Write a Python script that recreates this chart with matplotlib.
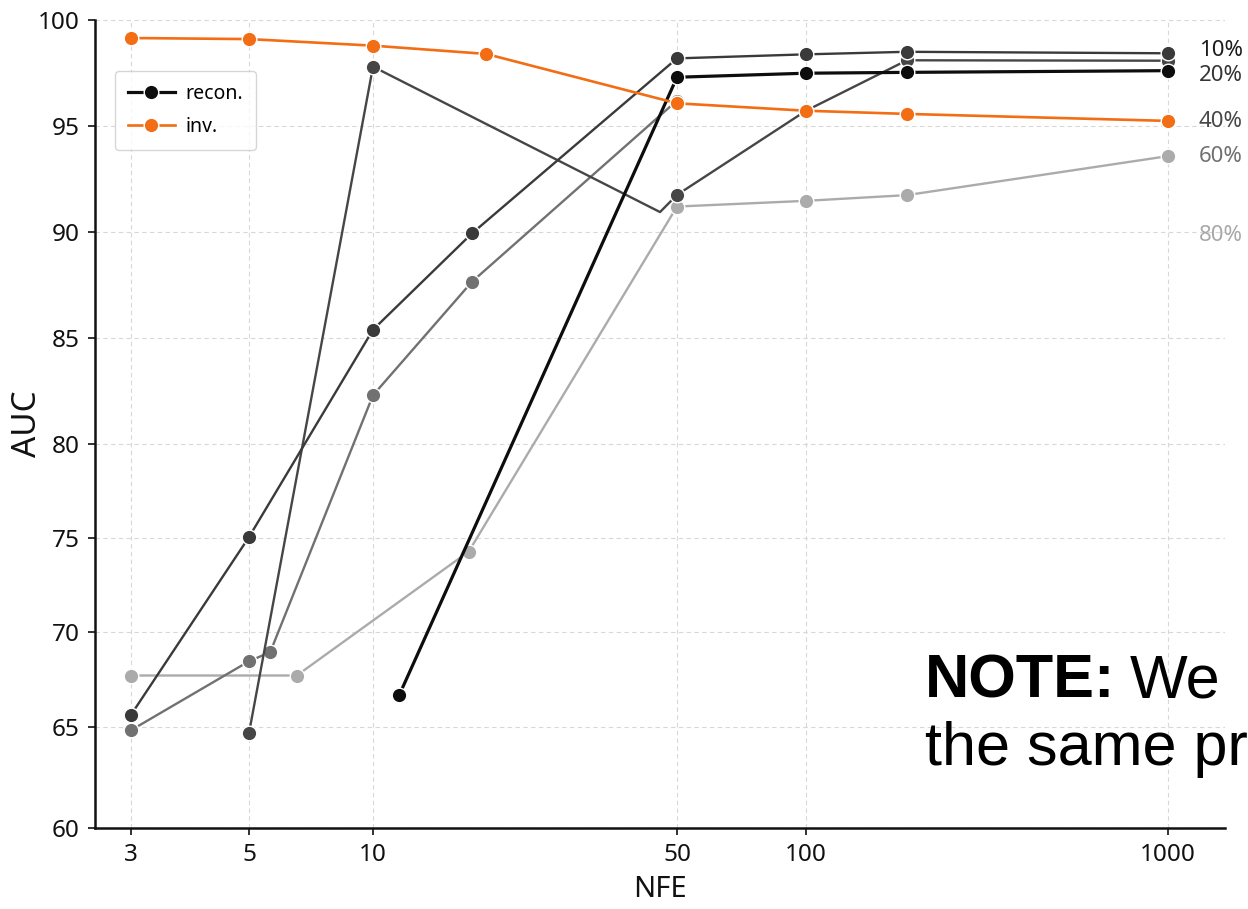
import numpy as np
import matplotlib
matplotlib.use('Agg')
import matplotlib.pyplot as plt
from matplotlib.ticker import NullLocator

plt.rcParams['font.family'] = ['Noto Sans', 'DejaVu Sans']

# ---------------- data ----------------
tick_nfe = [3, 5, 10, 50, 100, 1000]
tick_labels = ['3', '5', '10', '50', '100', '1000']
y_ticks = [60, 65, 70, 75, 80, 85, 90, 95, 100]

inv_x = [3, 5, 10, 18.2, 50, 100, 190, 1000]
inv_y = [99.15, 99.10, 98.79, 98.40, 96.07, 95.72, 95.57, 95.24]

recon_x = [11.5, 50, 100, 190, 1000]
recon_y = [66.70, 97.30, 97.49, 97.53, 97.61]

g1_x = [3, 5, 10, 16.9, 50, 100, 190, 1000]
g1_y = [65.64, 75.05, 85.39, 89.94, 98.19, 98.38, 98.50, 98.43]

g2_x = [5, 10, 45.7, 50, 100, 190, 1000]
g2_y = [64.70, 97.80, 90.94, 91.75, 95.72, 98.10, 98.08]
g2_marked = [0, 1, 3, 4, 5, 6]

g3_x = [3, 5, 5.63, 10, 16.9, 50]
g3_y = [64.84, 68.46, 68.94, 82.30, 87.66, 96.20]

g4_x = [3, 6.53, 16.6, 50, 100, 190, 1000]
g4_y = [67.71, 67.71, 74.28, 91.20, 91.47, 91.74, 93.58]

end_labels = ['10%', '20%', '40%', '60%', '80%']
end_label_y = [98.58, 97.40, 95.20, 93.55, 89.85]
end_label_colors = ['#1c1c1c', '#353535', '#474747', '#707070', '#a8a8a8']

# ---------------- custom NFE scale (piecewise log) ----------------
_L = np.log10(np.array(tick_nfe, float))
_P = np.array([131, 249, 373, 677, 806, 1168], float)
_s0 = (_P[1] - _P[0]) / (_L[1] - _L[0])
_s1 = (_P[-1] - _P[-2]) / (_L[-1] - _L[-2])
XL = np.concatenate([[_L[0] - 3], _L, [_L[-1] + 3]])
XP = np.concatenate([[_P[0] - 3 * _s0], _P, [_P[-1] + 3 * _s1]])


def xfwd(x):
    x = np.asarray(x, float)
    lx = np.log10(np.where(x > 0, x, 1e-300))
    return np.interp(lx, XL, XP)


def xinv(p):
    p = np.asarray(p, float)
    return 10 ** np.interp(p, XP, XL)


# ---------------- custom AUC scale (piecewise linear, uneven tick spacing) ----------------
_YV = np.array(y_ticks, float)
_YP = np.array([0, 101, 196, 290, 384, 490, 596, 702, 808], float)
YV = np.concatenate([[_YV[0] - 100], _YV, [_YV[-1] + 100]])
YP = np.concatenate([[_YP[0] - 100 * (_YP[1] - _YP[0]) / 5], _YP,
                     [_YP[-1] + 100 * (_YP[-1] - _YP[-2]) / 5]])


def yfwd(y):
    return np.interp(np.asarray(y, float), YV, YP)


def yinv(p):
    return np.interp(np.asarray(p, float), YP, YV)


# ---------------- figure ----------------
W, H = 1248, 909
fig = plt.figure(figsize=(W / 100, H / 100), dpi=100)
fig.patch.set_facecolor('white')
ax = fig.add_axes([95 / W, 81 / H, 1130 / W, 808 / H])

ax.set_xscale('function', functions=(xfwd, xinv))
ax.set_yscale('function', functions=(yfwd, yinv))
ax.set_xlim(float(xinv(95)), float(xinv(1225)))
ax.set_ylim(60, 100)

ms = 10.5
common = dict(marker='o', markersize=ms, markeredgecolor='white', markeredgewidth=1.0)

ax.plot(g4_x, g4_y, color='#ababab', lw=1.7, zorder=2, **common)
ax.plot(g3_x, g3_y, color='#717171', lw=1.7, zorder=3, **common)
ax.plot(g2_x, g2_y, color='#464646', lw=1.7, zorder=3, markevery=g2_marked, **common)
ax.plot(g1_x, g1_y, color='#3a3a3a', lw=1.7, zorder=3, **common)
h_recon, = ax.plot(recon_x, recon_y, color='#0d0d0d', lw=2.3, zorder=4, **common)
h_inv, = ax.plot(inv_x, inv_y, color='#f26d14', lw=1.9, zorder=5, **common)

ax.set_xticks(tick_nfe)
ax.set_xticklabels(tick_labels)
ax.xaxis.set_minor_locator(NullLocator())
ax.set_yticks(y_ticks)
ax.set_yticklabels([str(v) for v in y_ticks])
ax.yaxis.set_minor_locator(NullLocator())

ax.grid(True, linestyle=(0, (4, 3)), color='#d8d8d8', linewidth=0.8)
ax.set_axisbelow(True)

for s in ['top', 'right']:
    ax.spines[s].set_visible(False)
for s in ['left', 'bottom']:
    ax.spines[s].set_linewidth(1.8)
    ax.spines[s].set_color('#111111')

ax.tick_params(axis='both', direction='out', length=5, width=1.3, color='#222222',
               labelsize=17.5, pad=6, labelcolor='#111111')

ax.set_ylabel('AUC', fontsize=24, color='#111111')
ax.yaxis.set_label_coords(-0.045, 0.5)
ax.set_xlabel('NFE', fontsize=21, color='#111111')
ax.xaxis.set_label_coords(0.5, -0.058)

for lbl, yv, c in zip(end_labels, end_label_y, end_label_colors):
    ax.annotate(lbl, xy=(1000, yv), xytext=(22, 0), textcoords='offset points',
                ha='left', va='center', fontsize=16, color=c, annotation_clip=False)

leg = ax.legend(handles=[h_recon, h_inv], labels=['recon.', 'inv.'],
                loc='upper left', bbox_to_anchor=(0.018, 0.937), borderaxespad=0,
                fontsize=14, frameon=True, fancybox=True, handlelength=2.4,
                handletextpad=0.55, borderpad=0.65, labelspacing=0.7)
leg.get_frame().set_edgecolor('#cccccc')
leg.get_frame().set_linewidth(1.0)

fig.text(925 / W, 1 - 697 / H, 'NOTE:', fontsize=44, fontweight='bold',
         family='Liberation Sans', va='baseline', ha='left', color='black')
fig.text(1130 / W, 1 - 697 / H, 'We', fontsize=44,
         family='Liberation Sans', va='baseline', ha='left', color='black')
fig.text(925 / W, 1 - 765 / H, 'the same pr', fontsize=44,
         family='Liberation Sans', va='baseline', ha='left', color='black')

fig.savefig('out.png', dpi=100)
